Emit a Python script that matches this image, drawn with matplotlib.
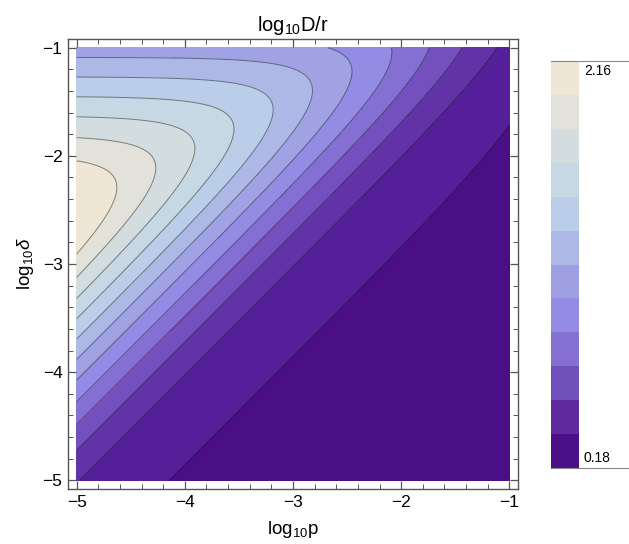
import numpy as np
import matplotlib
matplotlib.use("Agg")
import matplotlib.pyplot as plt
from matplotlib.colors import ListedColormap, BoundaryNorm
from matplotlib.lines import Line2D

plt.rcParams['font.family'] = ['Liberation Sans', 'DejaVu Sans']
plt.rcParams['mathtext.fontset'] = 'custom'
plt.rcParams['mathtext.rm'] = 'Liberation Sans'
plt.rcParams['mathtext.it'] = 'Liberation Sans:italic'

# contour levels of log10 D/r and the colours of the 13 regions they cut
contour_levels = [0.0, 0.18, 0.36, 0.54, 0.72, 0.90, 1.08, 1.26, 1.44, 1.62, 1.80, 1.98]
region_colors = ['#4a0f85', '#541f98', '#6233a7', '#7450be', '#8470d2', '#948be5', '#a0a2e4',
                 '#aeb8e6', '#bacde9', '#c5d8e3', '#d3dde0', '#e2e1da', '#f0e6d5']
# legend bar (12 bands) and its end labels
bar_colors = ['#4b0f87', '#5e2a9e', '#7050bb', '#8370d0', '#948be5', '#9fa0e3',
              '#aeb8e6', '#bacde9', '#c5d8e3', '#d3dde0', '#e2e1da', '#f0e6d5']
bar_labels = ['0.18', '2.16']

# model of the surface: 1/D = 1/F(delta/p) + 1/G(delta)
B_ratio = 0.875      # F ~ B * delta/p when delta >> p
A_floor = 0.536      # constant part of F
A_low = 0.4375       # extra part of F that fades out as delta/p grows
low_scale = 0.5      # delta/p where that extra part has halved
top_value = 0.99     # log10 G at log10 delta = -1
top_slope = 1.0      # rise of log10 G per decade of smaller delta

x = np.linspace(-5, -1, 500)
y = np.linspace(-5, -1, 500)
X, Y = np.meshgrid(x, y)
T = 10 ** (Y - X)
F = B_ratio * T + A_floor + A_low * low_scale / (T + low_scale)
G = 10 ** (top_value + top_slope * (-1 - Y))
Z = -np.log10(1 / F + 1 / G)

fig = plt.figure(figsize=(6.29, 5.44), dpi=100)
ax = fig.add_axes([68 / 629, 1 - 489 / 544, 450 / 629, 450 / 544])

fill_edges = [-1.0] + contour_levels + [3.0]
cmap = ListedColormap(region_colors)
norm = BoundaryNorm(fill_edges, cmap.N)
ax.contourf(X, Y, Z, levels=fill_edges, cmap=cmap, norm=norm)
ax.contour(X, Y, Z, levels=contour_levels, colors='k', linewidths=0.7, alpha=0.45)

ax.set_xlim(-5.08, -0.92)
ax.set_ylim(-5.08, -0.92)
ticks = [-5, -4, -3, -2, -1]
tick_text = ['\u22125', '\u22124', '\u22123', '\u22122', '\u22121']
ax.set_xticks(ticks)
ax.set_yticks(ticks)
ax.set_xticklabels(tick_text)
ax.set_yticklabels(tick_text)
ax.set_xticks(np.arange(-5, -0.99, 0.2), minor=True)
ax.set_yticks(np.arange(-5, -0.99, 0.2), minor=True)
ax.tick_params(which='both', direction='in', top=True, right=True, color='#555555', labelsize=12.5)
ax.tick_params(which='major', length=6, width=0.9, pad=4)
ax.tick_params(which='minor', length=3.5, width=0.7)
for sp in ax.spines.values():
    sp.set_color('#555555')
    sp.set_linewidth(1.0)

ax.set_xlabel(r'log$_{10}$p', fontsize=13.5, labelpad=7)
ax.set_ylabel(r'log$_{10}\delta$', fontsize=13.5, labelpad=5)
ax.set_title(r'log$_{10}$D/r', fontsize=14.5, pad=6)

# legend bar
cax = fig.add_axes([551 / 629, 1 - 468 / 544, 28 / 629, 407 / 544])
for i, c in enumerate(bar_colors):
    cax.axhspan(i, i + 1, color=c, lw=0)
cax.set_xlim(0, 1)
cax.set_ylim(0, len(bar_colors))
cax.axis('off')
fig.add_artist(Line2D([551 / 629, 1.0], [1 - 61 / 544] * 2, color='#888888', lw=0.8))
fig.add_artist(Line2D([551 / 629, 1.0], [1 - 468 / 544] * 2, color='#888888', lw=0.8))
fig.text(584 / 629, 1 - 64 / 544, bar_labels[1], fontsize=10, va='top', ha='left')
fig.text(584 / 629, 1 - 465 / 544, bar_labels[0], fontsize=10, va='bottom', ha='left')

fig.savefig('out.png', dpi=100)
